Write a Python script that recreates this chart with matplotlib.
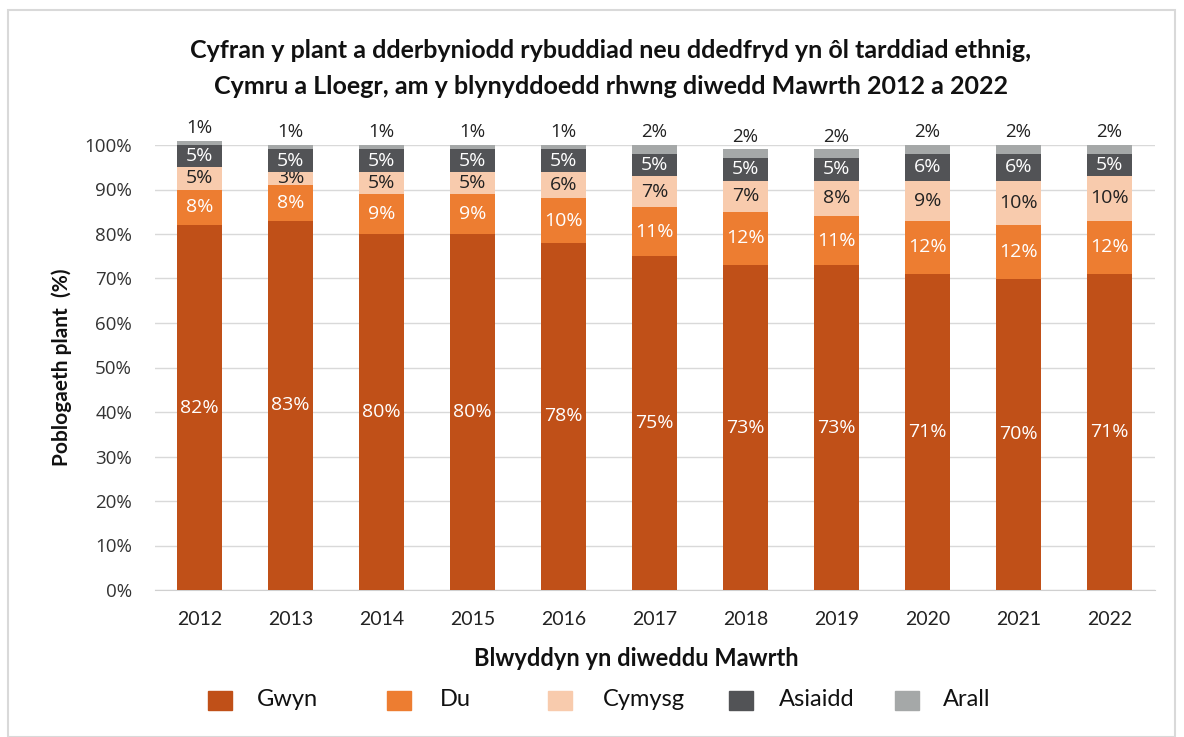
import numpy as np
import matplotlib.pyplot as plt
from matplotlib.patches import Rectangle

# Canrannau fesul blwyddyn (diwedd Mawrth)
blynyddoedd = ["2012", "2013", "2014", "2015", "2016", "2017",
               "2018", "2019", "2020", "2021", "2022"]
gwyn = [82, 83, 80, 80, 78, 75, 73, 73, 71, 70, 71]
du = [8, 8, 9, 9, 10, 11, 12, 11, 12, 12, 12]
cymysg = [5, 3, 5, 5, 6, 7, 7, 8, 9, 10, 10]
asiaidd = [5, 5, 5, 5, 5, 5, 5, 5, 6, 6, 5]
arall = [1, 1, 1, 1, 1, 2, 2, 2, 2, 2, 2]

grwpiau = ["Gwyn", "Du", "Cymysg", "Asiaidd", "Arall"]
lliwiau = ["#C05018", "#ED7D31", "#F8CBAD", "#525356", "#A5A8A8"]
lliw_testun = ["white", "white", "#222222", "white", None]

W, H = 1184, 737
fig = plt.figure(figsize=(W / 100, H / 100), dpi=100)
fig.patches.append(Rectangle((8 / W, 0), 1167 / W, 727 / H,
                             transform=fig.transFigure, fill=False,
                             edgecolor="#D9D9D9", linewidth=1.5))
ax = fig.add_axes([155 / W, 147 / H, 1000 / W, 445 / H])

x = np.arange(len(blynyddoedd))
gwaelod = np.zeros(len(x))
for enw, vals, lliw, lt in zip(grwpiau, [gwyn, du, cymysg, asiaidd, arall],
                               lliwiau, lliw_testun):
    vals = np.array(vals, dtype=float)
    ax.bar(x, vals / 100, 0.495, bottom=gwaelod / 100, color=lliw,
           label=enw, zorder=3, clip_on=False)
    for xi, b, v in zip(x, gwaelod, vals):
        if lt is None:
            ax.text(xi, (b + v) / 100 + 0.008, f"{v:.0f}%", ha="center",
                    va="bottom", fontsize=13.5, family="Open Sans",
                    color="#222222", clip_on=False)
        else:
            ax.text(xi, (b + v / 2) / 100, f"{v:.0f}%", ha="center",
                    va="center", fontsize=14, family="Open Sans", color=lt)
    gwaelod += vals

ax.set_xlim(-0.49, 10.5)
ax.set_ylim(0, 1.0)
yt = np.arange(0, 1.01, 0.1)
ax.set_yticks(yt)
ax.set_yticklabels([f"{int(round(t * 100))}%" for t in yt],
                   family="Open Sans", fontsize=13.5, color="#333333")
ax.set_xticks(x)
ax.set_xticklabels(blynyddoedd, family="Lato", fontsize=14, color="#222222")
ax.tick_params(axis="both", length=0)
ax.tick_params(axis="y", pad=16.5)
ax.tick_params(axis="x", pad=15)
ax.grid(axis="y", color="#D9D9D9", linewidth=1, zorder=0)
for s in ["top", "right", "left"]:
    ax.spines[s].set_visible(False)
ax.spines["bottom"].set_color("#D0D0D0")

ax.set_xlabel("Blwyddyn yn diweddu Mawrth", family="Lato", fontweight="bold",
              fontsize=17, color="#111111")
ax.xaxis.set_label_coords(0.481, -0.128)
ax.set_ylabel("Poblogaeth plant  (%)", family="Lato", fontweight="bold",
              fontsize=15, color="#111111")
ax.yaxis.set_label_coords(-0.083, 0.5)

# Teitl ar ddwy linell
fig.text(0.516, 1 - 50 / H,
         "Cyfran y plant a dderbyniodd rybuddiad neu ddedfryd yn ôl tarddiad ethnig,",
         ha="center", va="center", family="Lato", fontweight="bold",
         fontsize=18, color="#111111")
fig.text(0.516, 1 - 87 / H,
         "Cymru a Lloegr, am y blynyddoedd rhwng diwedd Mawrth 2012 a 2022",
         ha="center", va="center", family="Lato", fontweight="bold",
         fontsize=18, color="#111111")

# Allwedd
patch_x = [208, 387, 548, 729, 895]
testun_x = [257, 440, 603, 779, 943]
for enw, lliw, px, tx in zip(grwpiau, lliwiau, patch_x, testun_x):
    fig.patches.append(Rectangle((px / W, 1 - 710 / H), 24 / W, 19 / H,
                                 transform=fig.transFigure, color=lliw))
    fig.text(tx / W, 1 - 700 / H, enw, ha="left", va="center",
             family="Lato", fontsize=17, color="#111111")

fig.savefig("out.png", dpi=100)
